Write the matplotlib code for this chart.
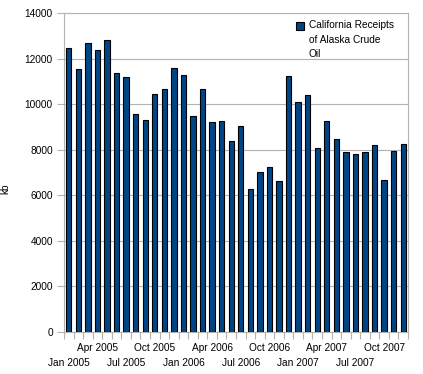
import numpy as np
import matplotlib.pyplot as plt

plt.rcParams['font.family'] = ['Liberation Sans', 'DejaVu Sans']

# monthly receipts, Jan 2005 .. Dec 2007 (kb)
months = ['Jan', 'Feb', 'Mar', 'Apr', 'May', 'Jun',
          'Jul', 'Aug', 'Sep', 'Oct', 'Nov', 'Dec']
years = [2005, 2006, 2007]
receipts = [12450, 11530, 12700, 12360, 12800, 11350, 11180, 9550, 9290, 10430, 10650, 11570,
            11270, 9470, 10650, 9210, 9250, 8370, 9030, 6260, 7010, 7230, 6620, 11220,
            10080, 10390, 8060, 9250, 8460, 7890, 7800, 7890, 8200, 6660, 7930, 8240]
series_name = 'California Receipts\nof Alaska Crude\nOil'

labels = ['%s %d' % (m, y) for y in years for m in months]
x = np.arange(len(receipts))

fig = plt.figure(figsize=(4.23, 3.74), dpi=100)
ax = fig.add_axes([0.1513, 0.1123, 0.8132, 0.8529])

ax.bar(x, receipts, width=0.55, color='#004586', edgecolor='black',
       linewidth=0.8, label=series_name, zorder=3)

ax.set_xlim(-0.5, len(receipts) - 0.5)
ax.set_ylim(0, 14000)
ax.set_yticks(np.arange(0, 14001, 2000))
ax.yaxis.grid(True, color='#b3b3b3', linewidth=0.8, zorder=0)

# quarter labels in two staggered rows: Apr/Oct on top, Jan/Jul below
upper = x[3::6]
lower = x[0::6]
ax.set_xticks(upper)
ax.set_xticklabels([labels[i] for i in upper])
ax.tick_params(axis='x', length=0, pad=8, labelsize=7.3)
ax.set_xticks(np.arange(-0.5, len(receipts), 1), minor=True)
ax.tick_params(axis='x', which='minor', length=5, color='#b3b3b3', width=0.8)

sec = ax.secondary_xaxis('bottom')
sec.set_xticks(lower)
sec.set_xticklabels([labels[i] for i in lower])
sec.tick_params(axis='x', length=0, pad=19, labelsize=7.3)
sec.spines['bottom'].set_visible(False)

ax.tick_params(axis='y', length=5, color='#b3b3b3', width=0.8, pad=3, labelsize=7.3)

for s in ax.spines.values():
    s.set_color('#b3b3b3')
    s.set_linewidth(0.8)

ax.set_ylabel('kb', fontsize=7.3)
ax.yaxis.set_label_coords(-0.157, 0.45)

leg = ax.legend(loc='upper left', bbox_to_anchor=(0.663, 0.99), frameon=False,
                fontsize=7.3, handlelength=0.8, handleheight=0.8, handletextpad=0.45,
                borderaxespad=0)
leg.get_texts()[0].set_linespacing(1.55)
h = leg.legend_handles[0]
h.set_y(h.get_y() + 10.3)

plt.savefig('out.png', dpi=100)
